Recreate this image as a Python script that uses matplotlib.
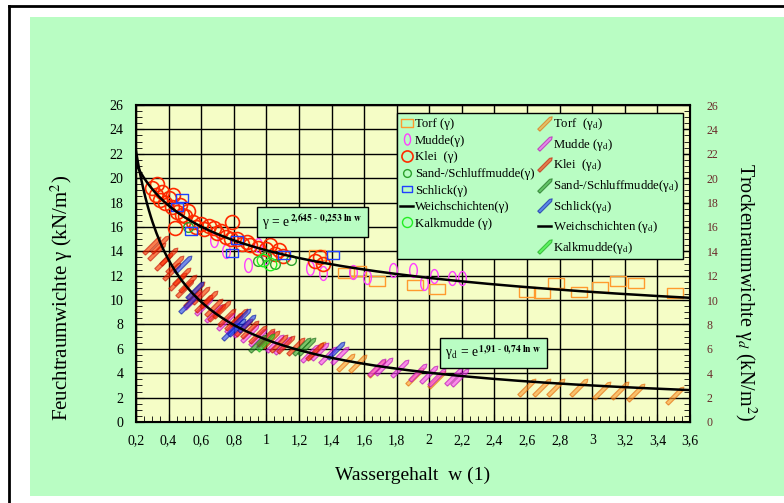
import numpy as np
import matplotlib
matplotlib.use("Agg")
import matplotlib.pyplot as plt
from matplotlib.path import Path
from matplotlib.lines import Line2D
from matplotlib.patches import Rectangle

plt.rcParams['font.family'] = ['Liberation Serif', 'DejaVu Serif']
plt.rcParams['mathtext.fontset'] = 'stix'

# ---- data (w, gamma) ----
torf_w = [1.31, 1.49, 1.56, 1.68, 1.91, 2.05, 2.60, 2.69, 2.78, 2.92, 3.05, 3.16, 3.27, 3.51]
torf_g = [13.7, 12.2, 12.4, 11.6, 11.2, 10.9, 10.7, 10.6, 11.4, 10.7, 11.1, 11.6, 11.4, 10.6]
mudde_w = [0.68, 0.75, 0.89, 0.95, 1.00, 1.27, 1.35, 1.53, 1.62, 1.78, 1.90, 1.97, 2.03, 2.14, 2.20]
mudde_g = [14.9, 14.0, 12.9, 14.5, 13.5, 12.6, 12.2, 12.3, 11.9, 12.5, 12.5, 11.4, 12.0, 11.8, 11.8]
klei_w = [0.30, 0.32, 0.33, 0.35, 0.36, 0.38, 0.40, 0.42, 0.43, 0.44, 0.45, 0.47, 0.48, 0.50, 0.52,
          0.55, 0.57, 0.60, 0.62, 0.65, 0.68, 0.70, 0.72, 0.75, 0.78, 0.79, 0.82, 0.85, 0.88, 0.90,
          0.95, 1.00, 1.02, 1.05, 1.08, 1.10, 1.30, 1.33, 1.35]
klei_g = [19.2, 18.6, 19.5, 18.2, 18.9, 18.0, 18.4, 17.6, 18.6, 15.9, 17.2, 17.8, 17.0, 16.9, 17.3,
          16.4, 16.0, 16.2, 15.8, 16.1, 15.9, 15.5, 15.7, 15.2, 15.0, 16.4, 15.0, 14.6, 14.8, 14.5,
          14.3, 14.2, 14.5, 13.8, 14.1, 13.6, 13.2, 13.5, 13.0]
sand_w = [0.52, 0.95, 1.00, 1.05, 1.15]
sand_g = [16.0, 13.2, 13.6, 13.0, 13.3]
schlick_w = [0.45, 0.48, 0.54, 0.79, 0.82, 1.11, 1.41]
schlick_g = [17.6, 18.4, 15.7, 13.9, 14.9, 13.7, 13.7]
kalk_w = [0.98, 1.02]
kalk_g = [13.3, 13.0]

# ---- data (w, gamma_d) ----
torf_dw = [1.31, 1.49, 1.56, 1.68, 1.91, 2.05, 2.60, 2.69, 2.78, 2.92, 3.06, 3.17, 3.27, 3.51]
torf_d = [5.9, 4.9, 4.8, 4.4, 3.8, 3.5, 2.9, 2.9, 2.9, 2.9, 2.6, 2.6, 2.5, 2.2]
mudde_dw = [0.55, 0.62, 0.68, 0.75, 0.80, 0.85, 0.90, 0.95, 1.00, 1.05, 1.10, 1.27, 1.33, 1.38,
            1.45, 1.68, 1.72, 1.82, 1.93, 2.00, 2.05, 2.15, 2.19]
mudde_d = [10.0, 9.5, 8.9, 8.3, 8.0, 7.7, 7.3, 7.0, 6.8, 6.5, 6.3, 5.7, 5.8, 5.5,
           5.5, 4.5, 4.6, 4.4, 4.1, 3.9, 3.7, 3.8, 3.7]
klei_dw = [0.30, 0.33, 0.35, 0.37, 0.40, 0.42, 0.44, 0.46, 0.48, 0.50, 0.52, 0.55, 0.57, 0.60,
           0.62, 0.65, 0.68, 0.70, 0.73, 0.76, 0.80, 0.83, 0.86, 0.90, 0.95, 1.00, 1.03, 1.08,
           1.12, 1.18, 1.30]
klei_d = [14.5, 14.0, 14.6, 13.2, 13.6, 12.4, 13.0, 11.6, 12.0, 11.0, 11.4, 10.2, 10.8, 10.4,
          9.8, 10.1, 9.4, 9.0, 9.3, 8.6, 8.3, 8.6, 7.8, 7.6, 7.2, 7.0, 6.8, 6.5,
          6.4, 6.2, 5.8]
sand_dw = [0.95, 1.22, 1.25]
sand_d = [6.5, 6.2, 6.2]
schlick_dw = [0.49, 0.52, 0.56, 0.78, 0.82, 0.85, 0.88, 1.43]
schlick_d = [13.0, 9.7, 10.8, 7.5, 7.8, 8.6, 8.1, 5.9]
kalk_dw = [1.00]
kalk_d = [6.6]

# fit curves as written on the chart: gamma = e^(a - b ln w)
fit_g = (2.645, 0.253)
fit_d = (1.91, 0.74)

# ---- marker shapes ----
t = np.linspace(0, 2 * np.pi, 40)
ellipse = Path(np.column_stack([0.55 * np.cos(t), np.sin(t)]))
rect = Path([(-1, -0.6), (1, -0.6), (1, 0.6), (-1, 0.6), (-1, -0.6)])
pv = np.array([(-1, -0.16), (0.75, -0.16), (1, 0), (0.75, 0.16), (-1, 0.16), (-1, -0.16)])
c, s = np.cos(np.pi / 4), np.sin(np.pi / 4)
pencil = Path(pv @ np.array([[c, s], [-s, c]]))

cols = {'torf': '#ff9a2e', 'mudde': '#ff40ff', 'klei': '#ff2a00',
        'sand': '#2ca02c', 'schlick': '#2040ff', 'kalk': '#22ee22'}

fig = plt.figure(figsize=(7.84, 5.03), dpi=100)
fig.patch.set_facecolor('white')
fig.patches.append(Rectangle((30 / 784, 7 / 503), 1, 479 / 503, transform=fig.transFigure,
                             facecolor='#b9fdc3', edgecolor='none', zorder=-10))
fig.lines.append(Line2D([9 / 784, 9 / 784], [0, 1 - 6 / 503], transform=fig.transFigure, color='black', lw=2))
fig.lines.append(Line2D([9 / 784, 1], [1 - 6 / 503, 1 - 6 / 503], transform=fig.transFigure, color='black', lw=2))

ax = fig.add_axes([136 / 784, 81 / 503, 554 / 784, 317 / 503])
ax.set_facecolor('#f5fdc6')
ax.set_xlim(0.2, 3.6)
ax.set_ylim(0, 26)
ax.set_xticks(np.arange(0.2, 3.61, 0.2))
ax.set_xticklabels([('%g' % round(v, 1)).replace('.', ',') for v in np.arange(0.2, 3.61, 0.2)])
ax.set_yticks(np.arange(0, 27, 2))
ax.set_xticks(np.arange(0.2, 3.61, 0.05), minor=True)
ax.set_yticks(np.arange(0, 26.1, 0.5), minor=True)
ax.grid(True, which='major', color='black', lw=1)
ax.tick_params(which='both', direction='in', labelsize=10, pad=9)
ax.tick_params(which='major', length=6)
ax.tick_params(which='minor', length=4)
for sp in ax.spines.values():
    sp.set_linewidth(1.5)

mk = dict(linestyle='none', fillstyle='none')
h_torf, = ax.plot(torf_w, torf_g, marker=rect, ms=11, mec=cols['torf'], **mk)
h_mudde, = ax.plot(mudde_w, mudde_g, marker=ellipse, ms=10, mec=cols['mudde'], **mk)
h_klei, = ax.plot(klei_w, klei_g, marker='o', ms=10, mec=cols['klei'], mew=1.2, **mk)
h_sand, = ax.plot(sand_w, sand_g, marker='o', ms=7, mec=cols['sand'], **mk)
h_schlick, = ax.plot(schlick_w, schlick_g, marker=rect, ms=9, mec=cols['schlick'], **mk)
h_kalk, = ax.plot(kalk_w, kalk_g, marker='o', ms=9, mec=cols['kalk'], **mk)

pk = dict(linestyle='none', marker=pencil, ms=14, alpha=0.6, mew=0.8)
hd_torf, = ax.plot(torf_dw, torf_d, mfc=cols['torf'], mec='#e06000', **pk)
hd_mudde, = ax.plot(mudde_dw, mudde_d, mfc=cols['mudde'], mec='#b000b0', **pk)
hd_klei, = ax.plot(klei_dw, klei_d, mfc=cols['klei'], mec='#c01000', **pk)
hd_sand, = ax.plot(sand_dw, sand_d, mfc=cols['sand'], mec='#106010', **pk)
hd_schlick, = ax.plot(schlick_dw, schlick_d, mfc=cols['schlick'], mec='#0010a0', **pk)
hd_kalk, = ax.plot(kalk_dw, kalk_d, mfc=cols['kalk'], mec='#10a010', **pk)

wc = np.linspace(0.2, 3.6, 300)
h_wg, = ax.plot(wc, np.exp(fit_g[0] - fit_g[1] * np.log(wc)), color='black', lw=1.8)
h_wd, = ax.plot(wc, np.exp(fit_d[0] - fit_d[1] * np.log(wc)), color='black', lw=1.8)

box = dict(boxstyle='square,pad=0.4', facecolor='#b9fdc3', edgecolor='black', lw=1)
fig.text(262 / 784, 1 - 222 / 503, r'γ = e$^{\,\mathbf{2{,}645\text{ - }0{,}253\ ln\ w}}$',
         fontsize=9.8, va='center', ha='left', bbox=box, zorder=5)
fig.text(445 / 784, 1 - 353 / 503, r'γ$_\mathrm{d}$ = e$^{\,\mathbf{1{,}91\text{ - }0{,}74\ ln\ w}}$',
         fontsize=9.8, va='center', ha='left', bbox=box, zorder=5)

ax2 = ax.twinx()
ax2.set_ylim(0, 26)
ax2.set_yticks(np.arange(0, 27, 2))
ax2.set_yticks(np.arange(0, 26.1, 0.5), minor=True)
ax2.tick_params(which='both', direction='in', labelsize=8.5, labelcolor='#6b2a2a', pad=12)
ax2.tick_params(which='major', length=6)
ax2.tick_params(which='minor', length=4)

ax.set_xlabel('Wassergehalt  w (1)', fontsize=14, labelpad=14)
ax.set_ylabel(r'Feuchtraumwichte γ (kN/m$^2$)', fontsize=15)
ax.yaxis.set_label_coords(-0.11, 0.39)
ax2.set_ylabel(r'Trockenraumwichte γ$_d$ (kN/m$^2$)', fontsize=14.5, rotation=270, va='center')
ax2.yaxis.set_label_coords(1.099, 0.41)

handles = [h_torf, h_mudde, h_klei, h_sand, h_schlick, h_wg, h_kalk,
           hd_torf, hd_mudde, hd_klei, hd_sand, hd_schlick, h_wd, hd_kalk]
labels = ['Torf (γ)', 'Mudde(γ)', 'Klei  (γ)', 'Sand-/Schluffmudde(γ)',
          'Schlick(γ)', 'Weichschichten(γ)', 'Kalkmudde (γ)',
          r'Torf  (γ$_\mathrm{d}$)', r'Mudde (γ$_\mathrm{d}$)', r'Klei  (γ$_\mathrm{d}$)',
          r'Sand-/Schluffmudde(γ$_\mathrm{d}$)', r'Schlick(γ$_\mathrm{d}$)',
          r'Weichschichten (γ$_\mathrm{d}$)', r'Kalkmudde(γ$_\mathrm{d}$)']
leg = ax2.legend(handles, labels, ncol=2, loc='upper left', bbox_to_anchor=(397 / 784, 1 - 113 / 503),
                 bbox_transform=fig.transFigure, fontsize=9.2, frameon=True, fancybox=False,
                 handlelength=1.0, handletextpad=0.15, columnspacing=0.3, labelspacing=0.36,
                 borderpad=0.25, borderaxespad=0, markerscale=0.8)
leg.get_frame().set_facecolor('#b9fdc3')
leg.get_frame().set_edgecolor('black')
leg.get_frame().set_alpha(1)
leg.set_zorder(10)

fig.savefig('out.png', dpi=100)
